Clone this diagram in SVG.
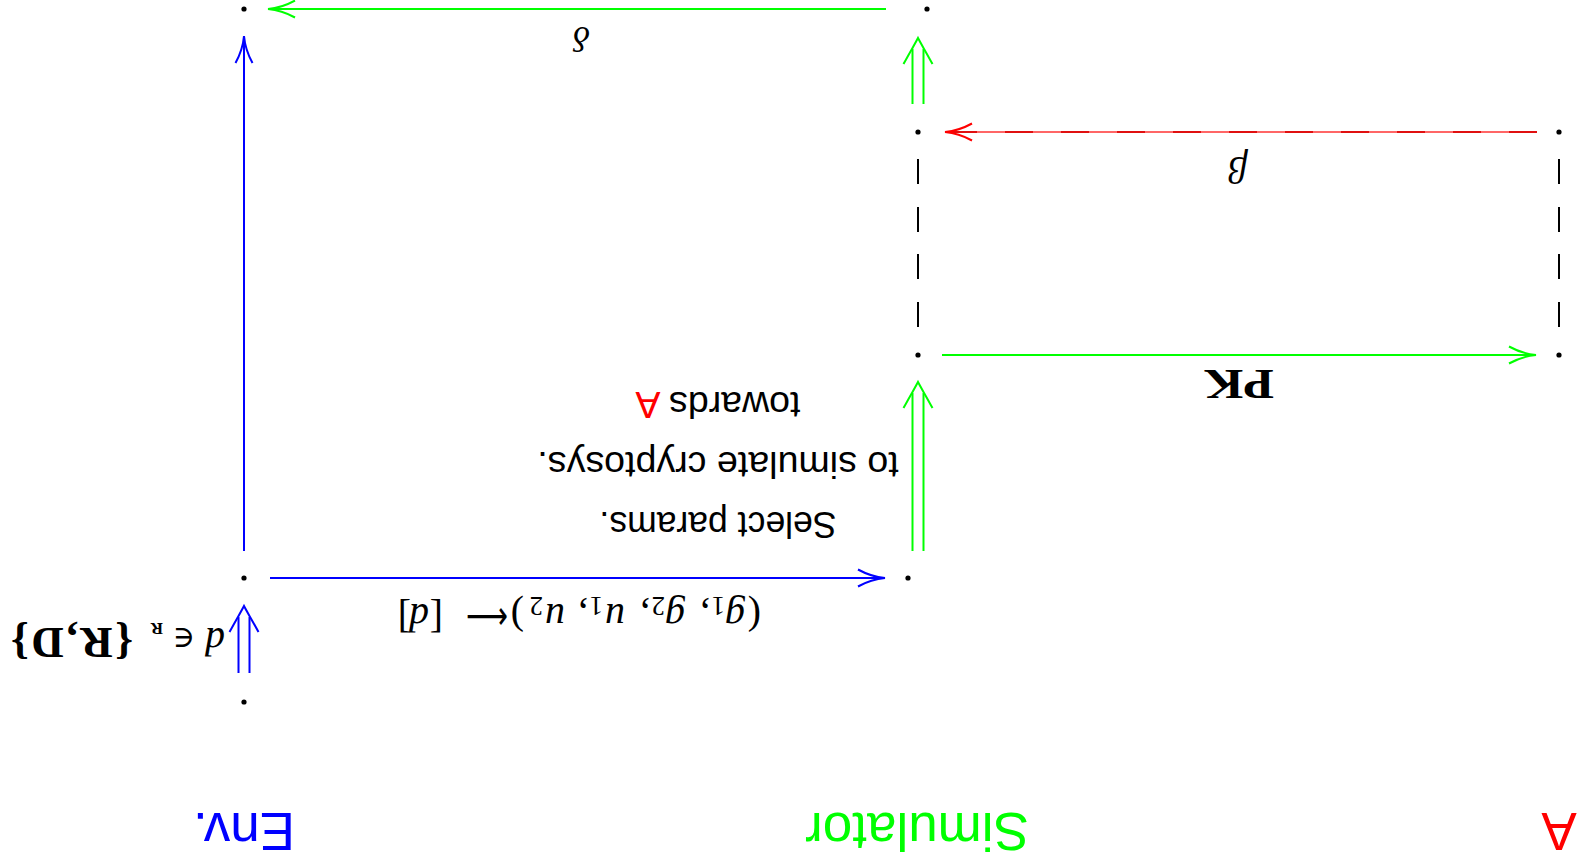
<svg xmlns="http://www.w3.org/2000/svg" xmlns:xlink="http://www.w3.org/1999/xlink" width="1577" height="861" viewBox="0 0 1577 861">
<style>
  .dot { fill: #000; }
  .ln { fill: none; stroke-width: 2; }
  .g { stroke: #00ff00; }
  .b { stroke: #0000ff; }
  .r { stroke: #ff0000; }
  .k { stroke: #000; }
  .sans { font-family: "Liberation Sans", Arial, sans-serif; }
  .serif { font-family: "Liberation Serif", "DejaVu Serif", serif; }
  .it { font-style: italic; }
  .bf { font-weight: bold; }
</style>
<defs>
  <marker id="ah-g" markerUnits="userSpaceOnUse" viewBox="-30 -11 33 22" markerWidth="33" markerHeight="22" refX="0" refY="0" orient="auto" overflow="visible">
    <path d="M -27,-8.5 C -17,-3 -7,-0.6 0,0 C -7,0.6 -17,3 -27,8.5" fill="none" stroke="#00ff00" stroke-width="2"/>
  </marker>
  <marker id="ah-b" markerUnits="userSpaceOnUse" viewBox="-30 -11 33 22" markerWidth="33" markerHeight="22" refX="0" refY="0" orient="auto" overflow="visible">
    <path d="M -27,-8.5 C -17,-3 -7,-0.6 0,0 C -7,0.6 -17,3 -27,8.5" fill="none" stroke="#0000ff" stroke-width="2"/>
  </marker>
  <marker id="ah-r" markerUnits="userSpaceOnUse" viewBox="-30 -11 33 22" markerWidth="33" markerHeight="22" refX="0" refY="0" orient="auto" overflow="visible">
    <path d="M -27,-8.5 C -17,-3 -7,-0.6 0,0 C -7,0.6 -17,3 -27,8.5" fill="none" stroke="#ff0000" stroke-width="2"/>
  </marker>
  <path id="dhead" d="M -14.5,26 C -8,14 -2,4 0,0 C 2,4 8,14 14.5,26" fill="none" stroke-width="2"/>
</defs>
<rect width="1577" height="861" fill="#fff"/>

<g id="connectors">
  <path class="ln g" d="M 886,9 L 268,9" marker-end="url(#ah-g)"/>
  <path class="ln b" d="M 244,551 L 244,36" marker-end="url(#ah-b)"/>
  <g stroke="#00ff00" class="ln">
    <path d="M 912.5,104 L 912.5,49 M 923.5,104 L 923.5,49"/>
    <use xlink:href="#dhead" href="#dhead" x="918" y="38"/>
  </g>
  <path class="ln r" d="M 1537,132 L 945,132" stroke-width="1" stroke-opacity="0.6"/>
  <path class="ln" stroke="#e01010" stroke-width="2.2" d="M 1537,132 L 945,132" stroke-dasharray="28 28" marker-end="url(#ah-r)"/>
  <path class="ln k" d="M 918,159 V 184 M 918,207 V 232 M 918,254 V 279 M 918,302 V 327"/>
  <path class="ln k" d="M 1559,159 V 184 M 1559,207 V 232 M 1559,254 V 279 M 1559,302 V 327"/>
  <path class="ln g" d="M 942,355 L 1536,355" marker-end="url(#ah-g)"/>
  <g stroke="#00ff00" class="ln">
    <path d="M 912.5,551 L 912.5,393 M 923.5,551 L 923.5,393"/>
    <use xlink:href="#dhead" href="#dhead" x="918" y="382"/>
  </g>
  <path class="ln b" d="M 270,578 L 885,578" marker-end="url(#ah-b)"/>
  <g stroke="#0000ff" class="ln">
    <path d="M 238.5,673 L 238.5,617 M 249.5,673 L 249.5,617"/>
    <use xlink:href="#dhead" href="#dhead" x="244" y="606"/>
  </g>
</g>

<g id="nodes">
  <g id="n-env-top"><circle class="dot" cx="244" cy="9" r="2.6"/></g>
  <g id="n-sim-top"><circle class="dot" cx="927" cy="9" r="2.6"/></g>
  <g id="n-sim-2"><circle class="dot" cx="918" cy="132" r="2.6"/></g>
  <g id="n-a-1"><circle class="dot" cx="1559" cy="132" r="2.6"/></g>
  <g id="n-sim-3"><circle class="dot" cx="918" cy="355" r="2.6"/></g>
  <g id="n-a-2"><circle class="dot" cx="1559" cy="355" r="2.6"/></g>
  <g id="n-env-2"><circle class="dot" cx="244" cy="578" r="2.6"/></g>
  <g id="n-sim-4"><circle class="dot" cx="908" cy="578" r="2.6"/></g>
  <g id="n-env-3"><circle class="dot" cx="244" cy="702" r="2.6"/></g>
</g>

<g id="labels" transform="rotate(180 788.5 430.5)">
  <text class="sans" x="1333" y="48" font-size="53" fill="#0000ff" text-anchor="middle">Env.</text>
  <text class="sans" x="660" y="48" font-size="53" fill="#00ff00" text-anchor="middle">Simulator</text>
  <text class="sans" x="18" y="48" font-size="53" fill="#ff0000" text-anchor="middle">A</text>

  <text class="serif it" x="995.5" y="834" font-size="36" text-anchor="middle">δ</text>
  <text class="serif it" x="339" y="704" font-size="38" text-anchor="middle">β</text>
  <text class="serif bf" x="338" y="491" font-size="42" text-anchor="middle" textLength="70" lengthAdjust="spacingAndGlyphs">PK</text>

  <text class="sans" x="859" y="349" font-size="37.6" text-anchor="middle" textLength="237" lengthAdjust="spacingAndGlyphs">Select params.</text>
  <text class="sans" x="859" y="409" font-size="37.6" text-anchor="middle">to simulate cryptosys.</text>
  <text class="sans" x="859" y="469" font-size="37.6" text-anchor="middle">towards <tspan fill="#ff0000">A</tspan></text>

  <g id="tuple-label" class="serif" font-size="40">
    <text x="816" y="257">(</text>
    <text class="it" x="832" y="257">g</text><text x="852" y="264" font-size="27">1</text><text x="867" y="257">,</text>
    <text class="it" x="892" y="257">g</text><text x="912" y="264" font-size="27">2</text><text x="927" y="257">,</text>
    <text class="it" x="952" y="257">u</text><text x="974" y="264" font-size="27">1</text><text x="989" y="257">,</text>
    <text class="it" x="1012" y="257">u</text><text x="1034" y="264" font-size="27">2</text>
    <text x="1053" y="257">)</text>
    <text x="1069" y="257" font-family="DejaVu Sans" textLength="42" lengthAdjust="spacingAndGlyphs">⟵</text>
    <text x="1134" y="257">[</text><text class="it" x="1148" y="257">d</text><text x="1166" y="257">]</text>
  </g>

  <g id="dset-label" class="serif" font-size="40">
    <text class="it" x="1352" y="233">d</text>
    <text x="1382" y="233" font-family="DejaVu Serif" font-size="30">∈</text>
    <text class="bf" x="1414" y="238" font-size="17">R</text>
    <text class="bf" x="1444" y="233" font-size="45" textLength="122" lengthAdjust="spacing">{R,D}</text>
  </g>
</g>
</svg>
